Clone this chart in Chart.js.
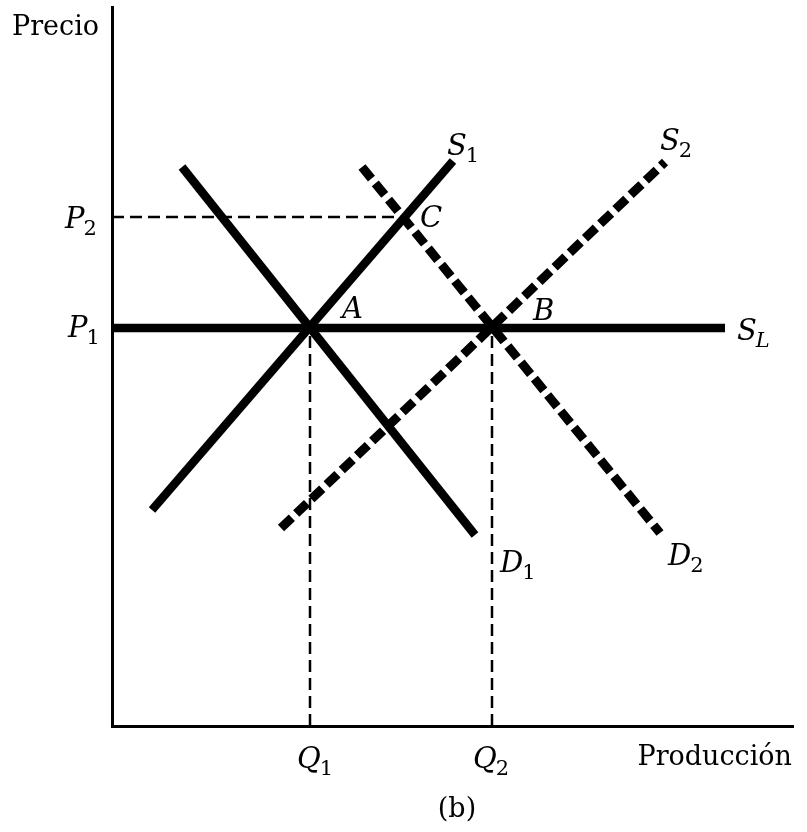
<!DOCTYPE html>
<html><head><meta charset="utf-8">
<script src="https://cdn.jsdelivr.net/npm/chart.js@4"></script>
<style>html,body{margin:0;padding:0;background:#fff}#wrap{width:807px;height:832px}</style>
</head><body><div id="wrap"><canvas id="c" width="807" height="832"></canvas></div>
<script>
// Curves (quantity, price) in chart units
const supply1 = [{x:40,y:216},{x:341,y:565}];
const demand1 = [{x:70,y:559},{x:363,y:191}];
const supply2 = [{x:169,y:198},{x:553,y:564}];
const demand2 = [{x:250,y:559},{x:548,y:193}];
const supplyLong = [{x:0,y:398},{x:613,y:398}];
const p2Guide = [{x:0,y:509},{x:293,y:509}];
const q1Guide = [{x:198,y:0},{x:198,y:398}];
const q2Guide = [{x:380,y:0},{x:380,y:398}];

// Text labels
const labelMain = ['P','P','Q','Q','S','S','S','D','D','A','B','C'];
const labelSub  = ['2','1','1','2','1','2','L','1','2','','',''];
const labelX    = [-47,-44,185,361,335,548,625,388,556,230,421,308];
const labelY    = [498,389,-42,-42,571,576,386,154,161,408,406,499];

const titleText  = ['Precio','Producción','(b)'];
const titleX     = [-100,680,345];
const titleY     = [691,-39,-91];
const titleAlign = ['left','right','center'];

const labelPlugin = {
  id:'labels',
  afterDraw(chart){
    const ctx = chart.ctx, xs = chart.scales.x, ys = chart.scales.y;
    ctx.save();
    ctx.fillStyle = '#000';
    ctx.textBaseline = 'alphabetic';
    titleText.forEach((t,i)=>{
      ctx.font = '27px "DejaVu Serif"';
      ctx.textAlign = titleAlign[i];
      ctx.fillText(t, xs.getPixelForValue(titleX[i]), ys.getPixelForValue(titleY[i]));
    });
    ctx.textAlign = 'left';
    labelMain.forEach((t,i)=>{
      const px = xs.getPixelForValue(labelX[i]);
      const py = ys.getPixelForValue(labelY[i]);
      ctx.font = 'italic 29px "DejaVu Serif"';
      ctx.fillText(t, px, py);
      const w = ctx.measureText(t).width;
      if (labelSub[i]) {
        ctx.font = (labelSub[i]==='L' ? 'italic ' : '') + '21px "DejaVu Serif"';
        ctx.fillText(labelSub[i], px + w - 1, py + 7);
      }
    });
    ctx.restore();
  }
};

function line(data, width, dash){
  return {data, showLine:true, pointRadius:0, borderColor:'#000', backgroundColor:'#000',
    borderWidth:width, borderDash:dash, borderCapStyle:'butt', fill:false, clip:false, tension:0};
}

new Chart(document.getElementById('c'), {
  type:'scatter',
  data:{datasets:[
    line(p2Guide, 2.5, [12,6]),
    line(q1Guide, 2.5, [12,6]),
    line(q2Guide, 2.5, [12,6]),
    line(supply1, 8.5, []),
    line(demand1, 8.5, []),
    line(supply2, 9, [15,6]),
    line(demand2, 9, [15,6]),
    line(supplyLong, 8.5, [])
  ]},
  options:{
    responsive:false, animation:false,
    layout:{padding:{left:112,right:14,top:7,bottom:106}},
    plugins:{legend:{display:false}, tooltip:{enabled:false}},
    scales:{
      x:{type:'linear', min:0, max:681, grid:{display:false, drawTicks:false}, ticks:{display:false},
         border:{display:true, color:'#000', width:3}},
      y:{type:'linear', min:0, max:719, grid:{display:false, drawTicks:false}, ticks:{display:false},
         border:{display:true, color:'#000', width:3}}
    }
  },
  plugins:[labelPlugin]
});
</script></body></html>
